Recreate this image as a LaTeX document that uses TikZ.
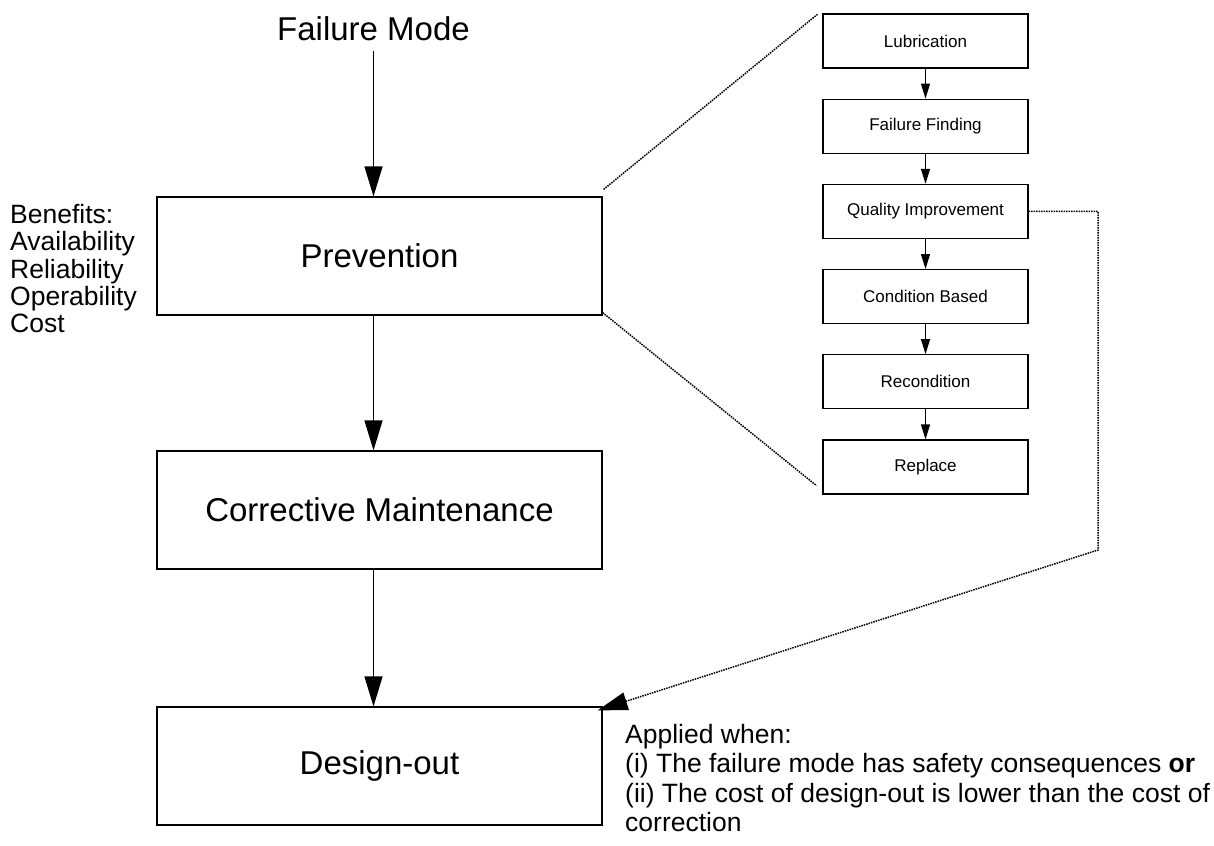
\documentclass[tikz,border=0pt]{standalone}
\usepackage{fontspec}
\setmainfont{Liberation Sans}
\usetikzlibrary{arrows.meta}

\begin{document}
\begin{tikzpicture}[
    x=1pt, y=1pt,
    every node/.style={color=black},
    big text/.style={font=\fontsize{33}{38}\selectfont},
    main box/.style={draw, line width=1.2pt, minimum width=445pt,
        minimum height=118pt, inner sep=0pt, font=\fontsize{33}{38}\selectfont},
    task box/.style={draw, line width=1.2pt, minimum width=205pt,
        minimum height=54pt, inner sep=0pt, font=\fontsize{17}{20}\selectfont},
    note/.style={align=left, inner sep=0pt, anchor=north west},
    flow/.style={line width=1.3pt, -{Triangle[length=30pt, width=18pt]}},
    small flow/.style={line width=1.2pt, -{Triangle[length=15pt, width=9pt]}},
    zoom line/.style={line width=1.5pt, dash pattern=on 1.5pt off 1pt},
    link/.style={zoom line, -{Triangle[length=30pt, width=18pt]}}
    ]
    \useasboundingbox (0,0) rectangle (1214,-845);
    % main chain
    \node[big text, anchor=base] (mode) at (373.5,-41) {Failure Mode};
    \node[main box] (prev) at (379.5,-256) {Prevention};
    \node[main box] (corr) at (379.5,-510) {Corrective Maintenance};
    \node[main box] (design) at (379.5,-766) {Design-out};
    \draw[flow, shorten <=6pt] (mode.south) -- (prev.north -| mode.south);
    \draw[flow] (prev.south -| mode.south) -- (corr.north -| mode.south);
    \draw[flow] (corr.south -| mode.south) -- (design.north -| mode.south);
    % notes
    \node[note, font=\fontsize{26.5}{27.3}\selectfont] (benefits) at (10,-204)
        {Benefits:\\Availability\\Reliability\\Operability\\Cost};
    \node[note, font=\fontsize{26.5}{29.3}\selectfont] (applied) at (625,-724)
        {Applied when:\\(i) The failure mode has safety consequences \textbf{or}\\
        (ii) The cost of design-out is lower than the cost of\\correction};
    % preventive tasks
    \node[task box] (lub) at (925.5,-41) {Lubrication};
    \node[task box] (find) at (925.5,-126.2) {Failure Finding};
    \node[task box] (qual) at (925.5,-211.4) {Quality Improvement};
    \node[task box] (cond) at (925.5,-296.6) {Condition Based};
    \node[task box] (recon) at (925.5,-381.8) {Recondition};
    \node[task box] (repl) at (925.5,-467) {Replace};
    \draw[small flow] (lub) -- (find);
    \draw[small flow] (find) -- (qual);
    \draw[small flow] (qual) -- (cond);
    \draw[small flow] (cond) -- (recon);
    \draw[small flow] (recon) -- (repl);
    % zoom lines
    \draw[zoom line] ([shift={(1pt,7pt)}]prev.north east)
        -- ([shift={(-5pt,-1pt)}]lub.north west);
    \draw[zoom line] ([shift={(0pt,3pt)}]prev.south east)
        -- ([shift={(-6pt,9pt)}]repl.south west);
    % quality improvement leads to design-out
    \coordinate (qturn) at (1098,-550);
    \draw[link] (qual.east) -| (qturn)
        -- ([shift={(-5pt,-4pt)}]design.north east);
\end{tikzpicture}
\end{document}
